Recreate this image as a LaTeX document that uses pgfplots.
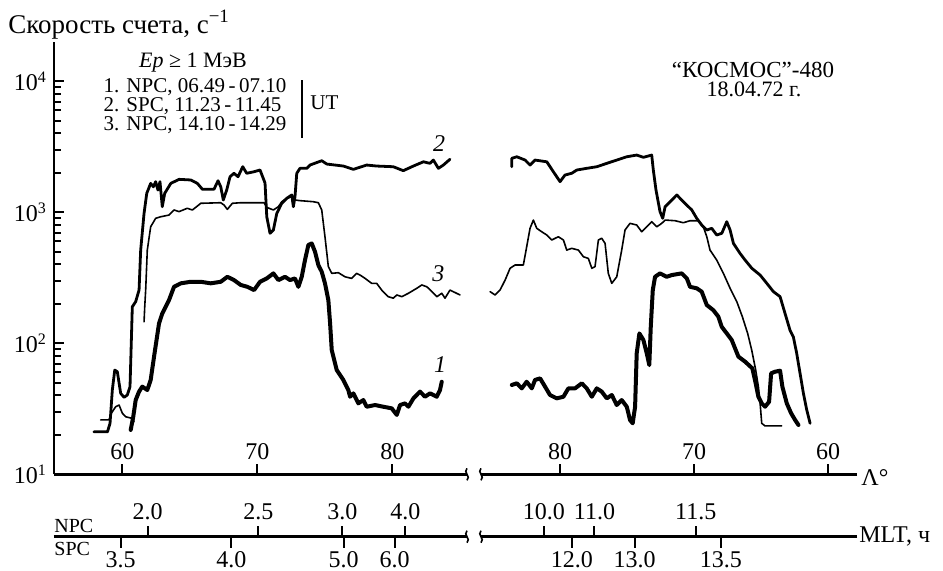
\documentclass[border=0pt]{standalone}
\usepackage{fontspec}
\setmainfont{Liberation Serif}
\usepackage{pgfplots}
\pgfplotsset{compat=1.18}
\newcommand{\brk}[1]{\draw[line width=0.8pt] ([yshift=-3pt]#1) .. controls ([xshift=2.2pt,yshift=-1pt]#1) and ([xshift=-2.2pt,yshift=1pt]#1) .. ([yshift=3pt]#1);}
\pgfplotsset{
  base/.style={scale only axis, axis line style={line width=1.3pt},
    tick align=inside, major tick length=5pt, minor tick length=3.5pt,
    every tick/.style={black, line width=1pt},
    ticklabel style={font=\fontsize{12}{14}\selectfont},
    /pgf/number format/assume math mode=true},
  mlt/.style={base, height=10pt, ymin=0, ymax=1, axis y line=none, ytick=\empty, major tick length=5.5pt},
  c1/.style={black, line width=2pt, line join=round, line cap=round},
  c2/.style={black, line width=1.4pt, line join=round, line cap=round},
  c3/.style={black, line width=0.8pt, line join=round, line cap=round},
}
\tikzset{leg/.style={anchor=base west, inner sep=0, text height=7.2pt, text depth=0.8pt, font=\fontsize{10.5}{12}\selectfont}}
\begin{document}
\begin{tikzpicture}
\useasboundingbox (-27pt,-47.85pt) rectangle (444.5pt,237.15pt);
% ---------- left panel ----------
\begin{axis}[base, name=L, at={(0,0)}, anchor=south west,
  width=206.5pt, height=216.2pt,
  xmin=54.94, xmax=85.53, ymode=log, ymin=10, ymax=20000,
  axis x line*=bottom, axis y line*=left,
  xtick={60,70,80}, xticklabels={60,70,80},
  xticklabel style={anchor=base, yshift=7.5pt},
  ytick={10,100,1000,10000},
  yticklabels={10\textsuperscript{1},10\textsuperscript{2},10\textsuperscript{3},10\textsuperscript{4}},
  minor ytick={20,30,40,50,60,70,80,90,200,300,400,500,600,700,800,900,2000,3000,4000,5000,6000,7000,8000,9000},
]
\addplot[c2] coordinates {(57.9,21.1)(58.9,21.1)(59.09,24.5)(59.26,44)(59.44,62.5)(59.63,60.7)(59.88,41.5)(60.13,38.7)(60.37,40.3)(60.57,46.6)(60.67,106)(60.74,190)(60.99,208)(61.24,255)(61.36,515)(61.61,982)(61.81,1396)(62.10,1663)(62.30,1567)(62.47,1714)(62.64,1479)(62.79,1714)(62.96,1104)(63.14,1396)(63.59,1663)(64.20,1786)(65.07,1766)(65.56,1663)(65.93,1500)(66.79,1500)(67.09,1742)(67.29,1567)(67.48,1242)(67.73,1479)(67.98,1870)(68.27,1986)(68.57,1870)(68.92,2230)(69.21,1986)(69.76,2042)(70.20,2104)(70.57,1674)(70.70,925)(70.94,692)(71.19,733)(71.44,982)(71.81,1172)(72.18,1279)(72.55,1357)(72.67,1104)(72.79,1316)(72.92,1986)(73.16,2167)(73.66,2167)(73.90,2296)(74.77,2477)(75.14,2337)(76.37,2256)(77.11,2128)(78.10,2296)(78.84,2256)(80.07,2229)(80.81,2080)(81.56,2256)(82.30,2431)(82.79,2365)(83.04,2506)(83.41,2167)(83.78,2296)(84.27,2541)};
\addplot[c3] coordinates {(58.40,26)(59.01,26)(59.19,29.3)(59.51,32.8)(59.76,33.8)(60.00,29.3)(60.25,27.5)(60.74,26.7)(60.87,25.2)};
\addplot[c3] coordinates {(61.61,146)(61.66,190)(61.73,255)(61.85,515)(62.10,776)(62.47,900)(62.84,925)(63.46,953)(63.83,1042)(64.20,1012)(64.81,1074)(65.19,1042)(65.56,1117)(65.81,1172)(67.29,1184)(67.53,1137)(67.78,1054)(68.15,1172)(68.77,1184)(70.50,1184)(70.70,1091)(71.19,1042)(71.56,1104)(71.81,1205)(72.18,1279)(72.55,1316)(72.79,1242)(73.16,1228)(74.15,1205)(74.52,1184)(74.77,1042)(75.01,651)(75.26,385)(75.51,342)(76.0,346)(76.50,322)(76.99,313)(77.36,342)(77.61,332)(77.98,313)(78.47,287)(78.84,287)(79.21,255)(79.70,227)(80.07,221)(80.33,234)(80.70,227)(81.19,241)(81.81,263)(82.18,279)(82.56,270)(82.93,248)(83.30,227)(83.66,241)(83.90,221)(84.27,255)(85.01,234)};
\addplot[c1] coordinates {(60.62,21.8)(60.81,27.5)(60.99,36.9)(61.24,42.8)(61.48,46.7)(61.85,44)(62.10,52.5)(62.35,79.1)(62.72,142)(62.96,169)(63.46,214)(63.83,270)(64.33,287)(65.07,295)(65.81,295)(66.55,287)(67.29,295)(67.78,322)(68.27,304)(68.77,279)(69.26,270)(69.76,255)(70.20,295)(70.70,313)(71.19,342)(71.56,304)(72.05,322)(72.42,304)(72.79,313)(73.04,270)(73.29,322)(73.53,432)(73.78,563)(74.03,579)(74.27,501)(74.52,396)(74.77,352)(75.01,287)(75.26,214)(75.39,142)(75.51,89)(75.88,62.5)(76.37,52.5)(76.74,44)(76.87,39.1)(77.11,41.5)(77.48,34.8)(77.85,36.9)(78.10,32.8)(78.72,33.8)(79.33,32.8)(79.95,31.9)(80.33,28.4)(80.57,33.8)(80.94,34.8)(81.19,32.8)(81.56,38)(82.05,42.8)(82.42,39.1)(82.79,41.5)(83.29,39.1)(83.53,44)(83.66,50.9)};
\end{axis}
% ---------- right panel ----------
\begin{axis}[base, name=R, at={(213.5pt,0)}, anchor=south west,
  width=188pt, height=216.2pt, x dir=reverse,
  xmin=57.84, xmax=85.90, ymode=log, ymin=10, ymax=20000,
  axis x line*=bottom, axis y line=none, ytick=\empty,
  xtick={60,70,80}, xticklabels={60,70,80},
  xticklabel style={anchor=base, yshift=7.5pt},
]
\addplot[c2] coordinates {(83.60,2229)(83.60,2583)(83.23,2656)(82.61,2506)(82.24,2296)(81.87,2506)(80.99,2431)(80.50,2042)(80.0,1714)(79.63,1927)(79.13,1986)(78.75,2104)(78.01,2167)(77.26,2229)(76.51,2365)(75.77,2506)(75.02,2656)(74.28,2736)(73.78,2630)(73.16,2736)(73.04,2104)(72.84,1479)(72.54,1012)(72.34,900)(72.16,1104)(71.66,1242)(71.29,1357)(70.80,1205)(70.17,1042)(69.80,900)(69.43,800)(69.05,733)(68.68,755)(68.31,671)(67.93,692)(67.56,848)(67.31,733)(67.06,579)(66.57,486)(66.19,432)(65.69,374)(65.07,332)(64.57,287)(64.08,248)(63.58,227)(63.21,169)(62.84,126)(62.59,112)(62.34,83.9)(62.09,59)(61.84,41.5)(61.59,31)(61.34,24.5)};
\addplot[c3] coordinates {(85.22,248)(84.85,234)(84.48,255)(84.10,304)(83.73,374)(83.36,396)(82.74,396)(82.49,546)(82.24,755)(81.99,873)(81.74,755)(81.37,711)(80.99,671)(80.62,615)(80.13,651)(79.75,615)(79.50,515)(79.13,531)(78.63,515)(78.26,458)(77.89,445)(77.63,374)(77.39,385)(77.14,615)(76.89,634)(76.64,579)(76.40,342)(76.14,287)(75.77,322)(75.40,515)(75.15,733)(74.78,824)(74.28,800)(73.91,711)(73.53,776)(73.16,848)(72.78,776)(72.41,824)(72.16,873)(71.42,863)(70.80,833)(70.30,863)(69.68,863)(69.31,776)(69.05,651)(68.81,515)(68.31,432)(67.81,342)(67.31,263)(66.81,208)(66.40,160)(66.0,119)(65.70,89)(65.40,62.5)(65.20,46.7)(65.07,34.8)(64.95,24.5)(64.70,23.4)(63.46,23.4)};
\addplot[c1] coordinates {(83.60,48.1)(83.23,49.5)(82.86,45.3)(82.49,50.9)(82.11,45.3)(81.87,52.5)(81.49,54)(81.12,46.7)(80.75,40.3)(80.25,38)(79.75,39.1)(79.38,45.3)(78.88,45.3)(78.38,49.5)(78.01,45.3)(77.63,39.1)(77.26,45.3)(76.89,42.8)(76.51,38)(76.14,40.3)(75.77,33.8)(75.40,36.9)(75.02,32.8)(74.78,26)(74.58,24.5)(74.40,32.8)(74.28,83.9)(74.08,119)(73.78,106)(73.53,83.9)(73.34,68.2)(73.23,134)(73.08,255)(72.91,322)(72.54,342)(72.04,322)(71.66,332)(70.92,342)(70.54,313)(70.30,270)(69.80,263)(69.43,248)(69.05,196)(68.56,179)(68.19,160)(67.94,134)(67.56,119)(67.19,106)(66.94,91.6)(66.69,79.1)(66.19,72.4)(65.65,64.4)(65.40,49.5)(65.20,39.1)(64.95,34.8)(64.70,32.8)(64.40,35.8)(64.25,59)(63.96,60.7)(63.58,61.8)(63.41,46.7)(63.08,34.8)(62.76,29.3)(62.46,26)(62.21,23.8)};
\end{axis}
% ---------- MLT scales ----------
\begin{axis}[mlt, name=LM, at={(0,-31.2pt)}, anchor=south west, width=206.5pt,
  xmin=54.94, xmax=85.53, axis x line*=bottom,
  xtick={61.87,70.08,76.30,80.96}, xticklabels={2.0,2.5,3.0,4.0},
  xticklabel style={anchor=base, yshift=8.4pt}]
\end{axis}
\begin{axis}[mlt, name=LS, at={(0,-31.2pt)}, anchor=north west, width=206.5pt,
  xmin=54.94, xmax=85.53, axis x line*=top,
  xtick={59.87,68.08,76.39,80.16}, xticklabels={3.5,4.0,5.0,6.0},
  xticklabel style={anchor=base, yshift=-15.2pt}]
\end{axis}
\begin{axis}[mlt, name=RM, at={(213.5pt,-31.2pt)}, anchor=south west, width=188pt,
  x dir=reverse, xmin=57.84, xmax=85.90, axis x line*=bottom,
  xtick={81.20,77.43,69.87}, xticklabels={10.0,11.0,11.5},
  xticklabel style={anchor=base, yshift=8.4pt}]
\end{axis}
\begin{axis}[mlt, name=RS, at={(213.5pt,-31.2pt)}, anchor=north west, width=188pt,
  x dir=reverse, xmin=57.84, xmax=85.90, axis x line*=top,
  xtick={79.11,74.44,68.0}, xticklabels={12.0,13.0,13.5},
  xticklabel style={anchor=base, yshift=-15.2pt}]
\end{axis}
% ---------- breaks ----------
\brk{L.south east}
\brk{R.south west}
\brk{LM.south east}
\brk{RM.south west}
% ---------- texts ----------
\node[anchor=base west, inner sep=0, font=\fontsize{13.5}{15}\selectfont] at (-23pt,220.65pt) {Скорость счета, с\textsuperscript{−1}};
\node[leg, anchor=base, font=\fontsize{11}{13}\selectfont] at (69.5pt,203.6pt) {\textit{Ep} ≥ 1 МэВ};
\node[leg] at (24.65pt,190.9pt) {1. NPC, 06.49\,-\,07.10};
\node[leg] at (24.65pt,181.3pt) {2. SPC, 11.23\,-\,11.45};
\node[leg] at (24.65pt,171.7pt) {3. NPC, 14.10\,-\,14.29};
\draw[line width=1pt] (123.85pt,197.15pt) -- (123.85pt,168.15pt);
\node[leg] at (128pt,182.5pt) {UT};
\node[anchor=base, inner sep=0, text height=8.2pt, text depth=0pt, font=\fontsize{11.5}{13}\selectfont] at (349.5pt,198.6pt) {“КОСМОС”-480};
\node[anchor=base, inner sep=0, text height=7.6pt, text depth=0pt, font=\fontsize{11}{13}\selectfont] at (350pt,188.9pt) {18.04.72 г.};
\node[anchor=base, inner sep=0, font=\fontsize{12}{14}\selectfont\itshape] at (192.5pt,161.65pt) {2};
\node[anchor=base, inner sep=0, font=\fontsize{12}{14}\selectfont\itshape] at (192.15pt,96.3pt) {3};
\node[anchor=base, inner sep=0, font=\fontsize{12}{14}\selectfont\itshape] at (193pt,51.15pt) {1};
\node[anchor=west, inner sep=0, xshift=2pt, yshift=-1.5pt, font=\fontsize{12}{14}\selectfont] at (R.south east) {Λ°};
\node[anchor=west, inner sep=0, xshift=1pt, font=\fontsize{12}{14}\selectfont] at (RM.south east) {MLT, ч};
\node[anchor=south west, inner sep=0, yshift=1.8pt, font=\fontsize{10}{12}\selectfont] at (LM.south west) {NPC};
\node[anchor=north west, inner sep=0, yshift=-2.5pt, font=\fontsize{10}{12}\selectfont] at (LS.north west) {SPC};
\end{tikzpicture}
\end{document}
